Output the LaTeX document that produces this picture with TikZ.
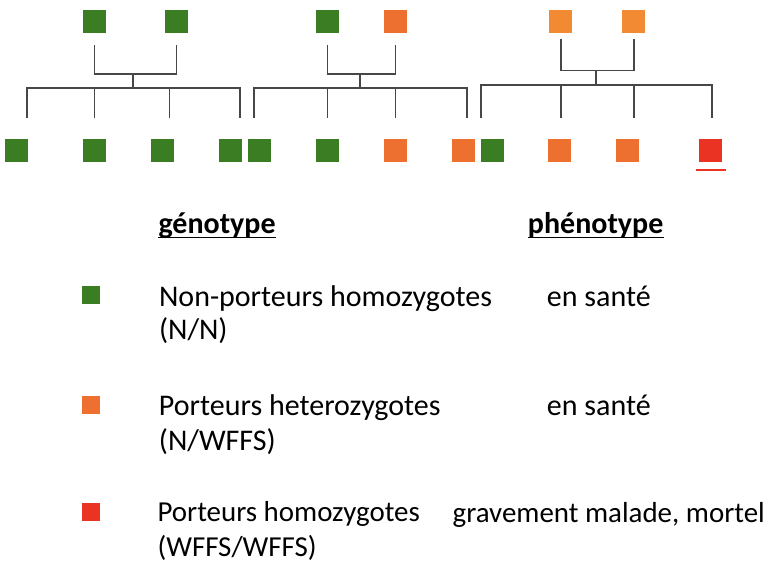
\documentclass[tikz,border=0pt]{standalone}
\usepackage{fontspec}
\setmainfont{Carlito}
\usepackage{xcolor}
\usepackage{tikz}
\usetikzlibrary{positioning, calc}

\definecolor{nn}{HTML}{3A7D22}
\definecolor{nw}{HTML}{ED7030}
\definecolor{nwpale}{HTML}{F28A33}
\definecolor{ww}{HTML}{EA3323}

\begin{document}
\begin{tikzpicture}[x=0.75pt, y=-0.75pt,
    sq/.style={rectangle, inner sep=0pt, minimum size=17.25pt},
    key/.style={rectangle, inner sep=0pt, minimum size=13.5pt},
    link/.style={draw=black!72, line width=1.4pt},
    lbl/.style={anchor=base west, inner sep=0pt, font=\fontsize{22.5pt}{26pt}\selectfont},
    lblsmall/.style={lbl, font=\fontsize{21.7pt}{26pt}\selectfont},
    head/.style={lbl, font=\fontsize{22.5pt}{26pt}\selectfont\bfseries},
    rule/.style={draw=black, line width=1.1pt}]

    \useasboundingbox (0,0) rectangle (770,572);

    % parents
    \node [sq, fill=nn] (a1) at (94.5,21) {};
    \node [sq, fill=nn] (a2) at (176.5,21) {};
    \node [sq, fill=nn] (b1) at (327.5,21) {};
    \node [sq, fill=nw] (b2) at (395.5,21) {};
    \node [sq, fill=nwpale] (c1) at (560.7,21) {};
    \node [sq, fill=nwpale] (c2) at (633.7,21) {};

    % children
    \node [sq, fill=nn] (ka1) at (16.5,150.5) {};
    \node [sq, fill=nn] (ka2) at (94.5,150.5) {};
    \node [sq, fill=nn] (ka3) at (162.5,150.5) {};
    \node [sq, fill=nn] (ka4) at (230.5,150.5) {};
    \node [sq, fill=nn] (kb1) at (259.3,150.5) {};
    \node [sq, fill=nn] (kb2) at (327,150.5) {};
    \node [sq, fill=nw] (kb3) at (395,150.5) {};
    \node [sq, fill=nw] (kb4) at (463,150.5) {};
    \node [sq, fill=nn] (kc1) at (492,150.5) {};
    \node [sq, fill=nw] (kc2) at (559.7,150.5) {};
    \node [sq, fill=nw] (kc3) at (627.7,150.5) {};
    \node [sq, fill=ww] (kc4) at (710.7,150.5) {};

    % sibling bars
    \coordinate (ma) at (133,88);
    \coordinate (da1) at (27,88);
    \coordinate (da4) at (240,88);
    \coordinate (mb) at (360,88);
    \coordinate (db1) at (253.7,88);
    \coordinate (db4) at (466.7,88);
    \coordinate (mc) at (596,85.3);
    \coordinate (dc1) at (481.3,85.3);
    \coordinate (dc4) at (711.7,85.3);

    % family 1
    \draw [link] ($(a1.south)+(0,12)$) -- ++(0,29) -| ($(a2.south)+(0,12)$);
    \draw [link] (ma) -- ++(0,-14);
    \draw [link] (da1) ++(0,30) |- (da4) -- ++(0,30);
    \draw [link] (ka2.north |- ma) -- ++(0,30) (ka3.north |- ma) ++(7,0) -- ++(0,30);

    % family 2
    \draw [link] ($(b1.south)+(0,12)$) -- ++(0,29) -| ($(b2.south)+(0,12)$);
    \draw [link] (mb) -- ++(0,-14);
    \draw [link] (db1) ++(0,30) |- (db4) -- ++(0,30);
    \draw [link] (b1.south |- mb) -- ++(0,30) (b2.south |- mb) -- ++(0,30);

    % family 3
    \draw [link] ($(c1.south)+(0,6)$) -- ++(0,31.7) -| ($(c2.south)+(0,6)$);
    \draw [link] (mc) -- ++(0,-14.6);
    \draw [link] (dc1) ++(0,32.7) |- (dc4) -- ++(0,32.7);
    \draw [link] (c1.south |- mc) -- ++(0,32.7) (c2.south |- mc) -- ++(0,32.7);

    \draw [draw=ww, line width=1.6pt] ($(kc4.south west)+(-2.5,8)$) -- ($(kc4.south east)+(3.5,8)$);

    % legend
    \node [head] (hgen) at (158.3,233) {génotype};
    \node [head] (hphen) at (527.7,233) {phénotype};
    \draw [rule] ($(hgen.base west)+(0,4.5)$) -- ($(hgen.base east)+(0,4.5)$);
    \draw [rule] ($(hphen.base west)+(0,4.5)$) -- ($(hphen.base east)+(0,4.5)$);

    \node [key, fill=nn] (keynn) at (91,295) {};
    \node [lbl] (gnn) at (158.8,306) {Non-porteurs homozygotes};
    \node [lbl] (gnn2) at (158.8,339.5) {(N/N)};
    \node [lbl] (pnn) at (546.7,306) {en santé};

    \node [key, fill=nw] (keynw) at (91,404.7) {};
    \node [lbl] (gnw) at (158.7,415) {Porteurs heterozygotes};
    \node [lbl] (gnw2) at (158.7,450) {(N/WFFS)};
    \node [lbl] (pnw) at (546.7,415) {en santé};

    \node [key, fill=ww] (keyww) at (91,512) {};
    \node [lblsmall] (gww) at (157.3,521.7) {Porteurs homozygotes};
    \node [lblsmall] (gww2) at (157.3,556) {(WFFS/WFFS)};
    \node [lblsmall, anchor=base east] (pww) at (765,522) {gravement malade, mortel};
\end{tikzpicture}
\end{document}
